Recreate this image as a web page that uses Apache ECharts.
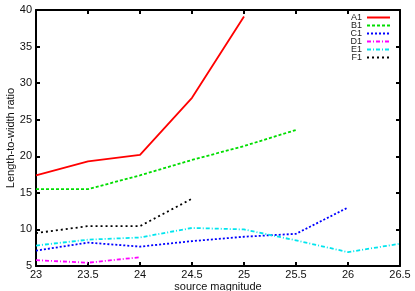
<!DOCTYPE html>
<html>
<head>
<meta charset="UTF-8">
<title>Length-to-width ratio</title>
<script src="https://cdn.jsdelivr.net/npm/echarts@6/dist/echarts.min.js"></script>
<style>
  html, body { margin: 0; padding: 0; background: #fff; }
  #main { width: 415px; height: 291px; }
</style>
</head>
<body>
<div id="main"></div>
<script>
// source magnitude
var mags = [23, 23.5, 24, 24.5, 25, 25.5, 26, 26.5];

// length-to-width ratio per series
var seriesNames = ['A1', 'B1', 'C1', 'D1', 'E1', 'F1'];
var valsA = [17.4, 19.3, 20.2, 28.0, 39.1];
var valsB = [15.5, 15.5, 17.4, 19.5, 21.4, 23.6];
var valsC = [7.1, 8.2, 7.65, 8.4, 9.0, 9.4, 13.0];
var valsD = [5.8, 5.45, 6.2];
var valsE = [7.8, 8.6, 8.9, 10.2, 10.0, 8.5, 6.9, 8.05];
var valsF = [9.5, 10.45, 10.45, 14.2];

var colors = ['#ff0000', '#00dd00', '#0000ff', '#ff00ff', '#00e5ee', '#000000'];
var dashes = ['solid', [3, 2], [2, 2], [4, 2, 1, 2], [4, 2, 1, 2], [2, 3]];
var allVals = [valsA, valsB, valsC, valsD, valsE, valsF];

function pairs(v) {
    return v.map(function (y, i) { return [mags[i], y]; });
}

var series = allVals.map(function (v, i) {
    return {
        name: seriesNames[i],
        type: 'line',
        data: pairs(v),
        symbol: 'none',
        lineStyle: { color: colors[i], width: 1.8, type: dashes[i] },
        itemStyle: { color: colors[i] },
        animation: false
    };
});

var chart = echarts.init(document.getElementById('main'));
var labelFont = { fontFamily: 'Liberation Sans', fontSize: 11, color: '#111' };

chart.setOption({
    backgroundColor: '#fff',
    grid: { left: 36, right: 15, top: 10, bottom: 25, containLabel: false, outerBoundsMode: 'none' },
    legend: {
        orient: 'vertical',
        right: 24,
        top: 13,
        align: 'right',
        itemWidth: 23,
        itemHeight: 8,
        itemGap: -1,
        padding: 0,
        itemStyle: { opacity: 0 },
        textStyle: { fontFamily: 'Liberation Sans', fontSize: 9, lineHeight: 8, color: '#222' },
        data: seriesNames
    },
    xAxis: [{
        type: 'value',
        min: 23, max: 26.5, interval: 0.5,
        name: 'source magnitude',
        nameLocation: 'middle',
        nameGap: 15,
        nameMoveOverlap: false,
        nameTextStyle: labelFont,
        axisLine: { lineStyle: { color: '#000', width: 2 } },
        axisTick: { inside: true, length: 4, lineStyle: { color: '#000', width: 2 } },
        axisLabel: Object.assign({ margin: 3 }, labelFont),
        splitLine: { show: false }
    }, {
        type: 'value', position: 'top',
        min: 23, max: 26.5, interval: 0.5,
        axisLine: { lineStyle: { color: '#000', width: 2 } },
        axisTick: { inside: true, length: 4, lineStyle: { color: '#000', width: 2 } },
        axisLabel: { show: false },
        splitLine: { show: false }
    }],
    yAxis: [{
        type: 'value',
        min: 5, max: 40, interval: 5,
        name: 'Length-to-width ratio',
        nameLocation: 'middle',
        nameGap: 20,
        nameMoveOverlap: false,
        nameTextStyle: labelFont,
        axisLine: { show: true, lineStyle: { color: '#000', width: 2 } },
        axisTick: { show: true, inside: true, length: 4, lineStyle: { color: '#000', width: 2 } },
        axisLabel: Object.assign({ margin: 4 }, labelFont),
        splitLine: { show: false }
    }, {
        type: 'value', position: 'right',
        min: 5, max: 40, interval: 5,
        axisLine: { show: true, lineStyle: { color: '#000', width: 2 } },
        axisTick: { show: true, inside: true, length: 4, lineStyle: { color: '#000', width: 2 } },
        axisLabel: { show: false },
        splitLine: { show: false }
    }],
    series: series
});
</script>
</body>
</html>
